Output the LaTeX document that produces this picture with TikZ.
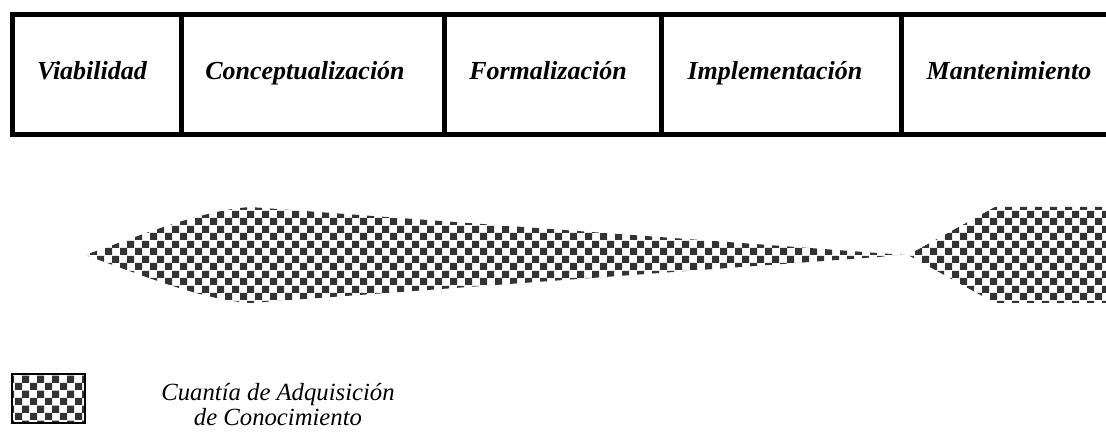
\documentclass[tikz,border=0pt]{standalone}
\usepackage{fontspec}
\setmainfont{Liberation Serif}
\usetikzlibrary{patterns.meta}
\definecolor{chkdark}{HTML}{333333}
\tikzdeclarepattern{
  name=chk,
  type=uncolored,
  bottom left={(0pt,0pt)},
  top right={(15pt,15pt)},
  tile size={(15pt,15pt)},
  code={
    \fill (0pt,0pt) rectangle (7.5pt,7.5pt);
    \fill (7.5pt,7.5pt) rectangle (15pt,15pt);
  }
}
\tikzset{
  phase/.style={font=\fontsize{26}{30}\selectfont\bfseries\itshape, anchor=base, inner sep=0pt},
  frame/.style={line width=5pt, draw=black},
  knowledge/.style={pattern=chk, pattern color=chkdark},
  legendtext/.style={font=\fontsize{24.7}{25}\selectfont\itshape, align=center, inner sep=0pt}
}
\begin{document}
\begin{tikzpicture}[x=1pt,y=-1pt]
\useasboundingbox (0,0) rectangle (1106,435);
\clip (0,0) rectangle (1106,435);
% phase band
\draw[frame] (12,14.5) rectangle (1125,134.5);
\foreach \xx in {181,444,661,901} \draw[frame] (\xx,14.5) -- (\xx,134.5);
\node[phase] (v) at (92,80) {Viabilidad};
\node[phase] (c) at (305,80) {Conceptualización};
\node[phase] (f) at (548,80) {Formalización};
\node[phase] (i) at (775,80) {Implementación};
\node[phase] (m) at (1009,80) {Mantenimiento};
% knowledge acquisition shape
\fill[knowledge] (85,255) .. controls (150,232) and (200,211) .. (250,207)
  -- (905,255) -- (250,303) .. controls (200,299) and (150,278) .. (85,255) -- cycle;
\fill[knowledge] (908,255) -- (995,207) -- (1115,207) -- (1115,303) -- (995,303) -- cycle;
% legend
\filldraw[knowledge, draw=black, line width=1.2pt] (12,374) rectangle (85,423);
\node[legendtext] (lg) at (278,405) {Cuantía de Adquisición\\de Conocimiento};
\end{tikzpicture}
\end{document}
